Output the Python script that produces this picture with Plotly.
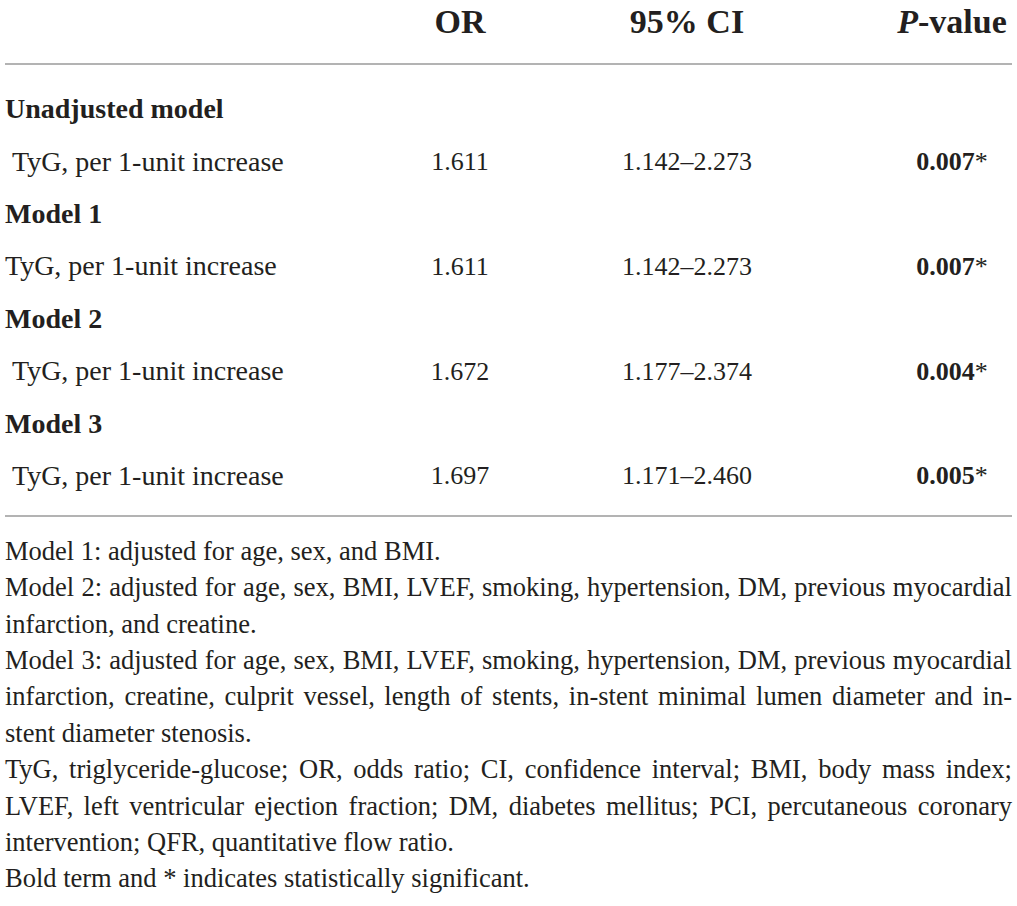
import plotly.graph_objects as go

# ---------------- data ----------------
header_labels = ["OR", "95% CI", "<i>P</i>-value"]
models = ["Unadjusted model", "Model 1", "Model 2", "Model 3"]
predictors = ["TyG, per 1-unit increase"] * 4
indented = [True, False, True, True]
or_values = [1.611, 1.611, 1.672, 1.697]
ci_low = [1.142, 1.142, 1.177, 1.171]
ci_high = [2.273, 2.273, 2.374, 2.460]
p_values = [0.007, 0.007, 0.004, 0.005]
significant = [True, True, True, True]

footnote_lines = [
    "Model 1: adjusted for age, sex, and BMI.",
    "Model 2: adjusted for age, sex, BMI, LVEF, smoking, hypertension, DM, previous myocardial",
    "infarction, and creatine.",
    "Model 3: adjusted for age, sex, BMI, LVEF, smoking, hypertension, DM, previous myocardial",
    "infarction, creatine, culprit vessel, length of stents, in-stent minimal lumen diameter and in-",
    "stent diameter stenosis.",
    "TyG, triglyceride-glucose; OR, odds ratio; CI, confidence interval; BMI, body mass index;",
    "LVEF, left ventricular ejection fraction; DM, diabetes mellitus; PCI, percutaneous coronary",
    "intervention; QFR, quantitative flow ratio.",
    "Bold term and * indicates statistically significant.",
]
footnote_justified = [False, True, False, True, True, False, True, True, False, False]

# ---------------- layout constants ----------------
W, H = 1017, 906
LEFT, RIGHT = 5, 1012
X_OR, X_CI, X_P = 460, 687, 952
FONT = "Liberation Serif, Times New Roman, serif"
TXT = "#231f20"
FS = 26          # numbers
FS_LAB = 28      # row labels
FS_NOTE = 26.5   # footnotes
FS_HEAD = 34
HEAD_Y = 21.5
ROW0, ROW_STEP = 109, 52.4
LINE_TOP, LINE_BOT = 64, 516
NOTE0, NOTE_STEP = 551, 36.4

def ypos(cap_center, fs):
    # plotly 'middle' text: baseline at y + 0.25*fs -> shift so caps are centred
    return cap_center + 0.08 * fs

# Times/Liberation Serif advance widths (per 1000 em) and main kerning pairs
_W = {' ': 250, ',': 250, '.': 250, ':': 278, ';': 278, '-': 333, '*': 500,
      'A': 722, 'B': 667, 'C': 667, 'D': 722, 'E': 611, 'F': 556, 'G': 722, 'H': 722,
      'I': 333, 'J': 389, 'K': 722, 'L': 611, 'M': 889, 'N': 722, 'O': 722, 'P': 556,
      'Q': 722, 'R': 667, 'S': 556, 'T': 611, 'U': 722, 'V': 722, 'W': 944, 'X': 722,
      'Y': 722, 'Z': 611,
      'a': 444, 'b': 500, 'c': 444, 'd': 500, 'e': 444, 'f': 333, 'g': 500, 'h': 500,
      'i': 278, 'j': 278, 'k': 500, 'l': 278, 'm': 778, 'n': 500, 'o': 500, 'p': 500,
      'q': 500, 'r': 333, 's': 389, 't': 278, 'u': 500, 'v': 500, 'w': 722, 'x': 500,
      'y': 500, 'z': 444}
_K = {('L', 'V'): -100, ('F', ','): -80, ('T', 'y'): -73, ('y', ','): -65,
      ('r', ','): -40, ('v', 'e'): -15, ('y', 'o'): 0}

def text_width(s, fs):
    w = sum(_W.get(c, 500) for c in s)
    w += sum(_K.get((a, b), 0) for a, b in zip(s, s[1:]))
    return w * fs / 1000.0

fig = go.Figure()

# ---- header ----
fig.add_trace(go.Scatter(
    x=[X_OR, X_CI, X_P], y=[ypos(HEAD_Y, FS_HEAD)] * 3,
    text=["<b>%s</b>" % h for h in header_labels],
    mode="text", textposition="middle center",
    textfont=dict(family=FONT, size=FS_HEAD, color=TXT),
    hoverinfo="skip", showlegend=False))

# ---- table body ----
lab_x, lab_y, lab_t = [], [], []
or_y, or_t, ci_t, p_t = [], [], [], []
for i, m in enumerate(models):
    y_model = ypos(ROW0 + ROW_STEP * (2 * i), FS_LAB)
    y_row_lab = ypos(ROW0 + ROW_STEP * (2 * i + 1), FS_LAB)
    y_row = ypos(ROW0 + ROW_STEP * (2 * i + 1), FS)
    lab_x += [LEFT, LEFT]
    lab_y += [y_model, y_row_lab]
    lab_t += ["<b>%s</b>" % m, ("\u00a0" if indented[i] else "") + predictors[i]]
    or_y.append(y_row)
    or_t.append("%.3f" % or_values[i])
    ci_t.append("%.3f\u2013%.3f" % (ci_low[i], ci_high[i]))
    p_t.append(("<b>%.3f</b>*" % p_values[i]) if significant[i] else "%.3f" % p_values[i])

fig.add_trace(go.Scatter(
    x=lab_x, y=lab_y, text=lab_t, mode="text", textposition="middle right",
    textfont=dict(family=FONT, size=FS_LAB, color=TXT), hoverinfo="skip", showlegend=False))
for xc, tt in [(X_OR, or_t), (X_CI, ci_t), (X_P, p_t)]:
    fig.add_trace(go.Scatter(
        x=[xc] * len(tt), y=or_y, text=tt, mode="text", textposition="middle center",
        textfont=dict(family=FONT, size=FS, color=TXT), hoverinfo="skip", showlegend=False))

# ---- footnotes (justified where the original is) ----
fx, fy, ft = [], [], []
for k, (line, just) in enumerate(zip(footnote_lines, footnote_justified)):
    yy = ypos(NOTE0 + NOTE_STEP * k, FS_NOTE)
    if not just:
        fx.append(LEFT); fy.append(yy); ft.append(line)
        continue
    words = line.split(" ")
    widths = [text_width(w, FS_NOTE) for w in words]
    gap = (RIGHT - LEFT - sum(widths)) / (len(words) - 1)
    xcur = LEFT
    for w, wd in zip(words, widths):
        fx.append(xcur); fy.append(yy); ft.append(w)
        xcur += wd + gap
fig.add_trace(go.Scatter(
    x=fx, y=fy, text=ft, mode="text", textposition="middle right",
    textfont=dict(family=FONT, size=FS_NOTE, color=TXT), hoverinfo="skip", showlegend=False))

# ---- rules ----
for yl in (LINE_TOP, LINE_BOT):
    fig.add_shape(type="line", xref="x", yref="y", x0=LEFT, x1=RIGHT, y0=yl, y1=yl,
                  line=dict(color="#9a9a9a", width=1.5))

fig.update_layout(
    width=W, height=H, margin=dict(l=0, r=0, t=0, b=0),
    paper_bgcolor="white", plot_bgcolor="white", showlegend=False,
    xaxis=dict(range=[0, W], visible=False, fixedrange=True),
    yaxis=dict(range=[H, 0], visible=False, fixedrange=True),
)

fig.write_html("out.html", config={"displayModeBar": False},
               post_script="document.body.style.margin='0';document.body.style.overflow='hidden';")
